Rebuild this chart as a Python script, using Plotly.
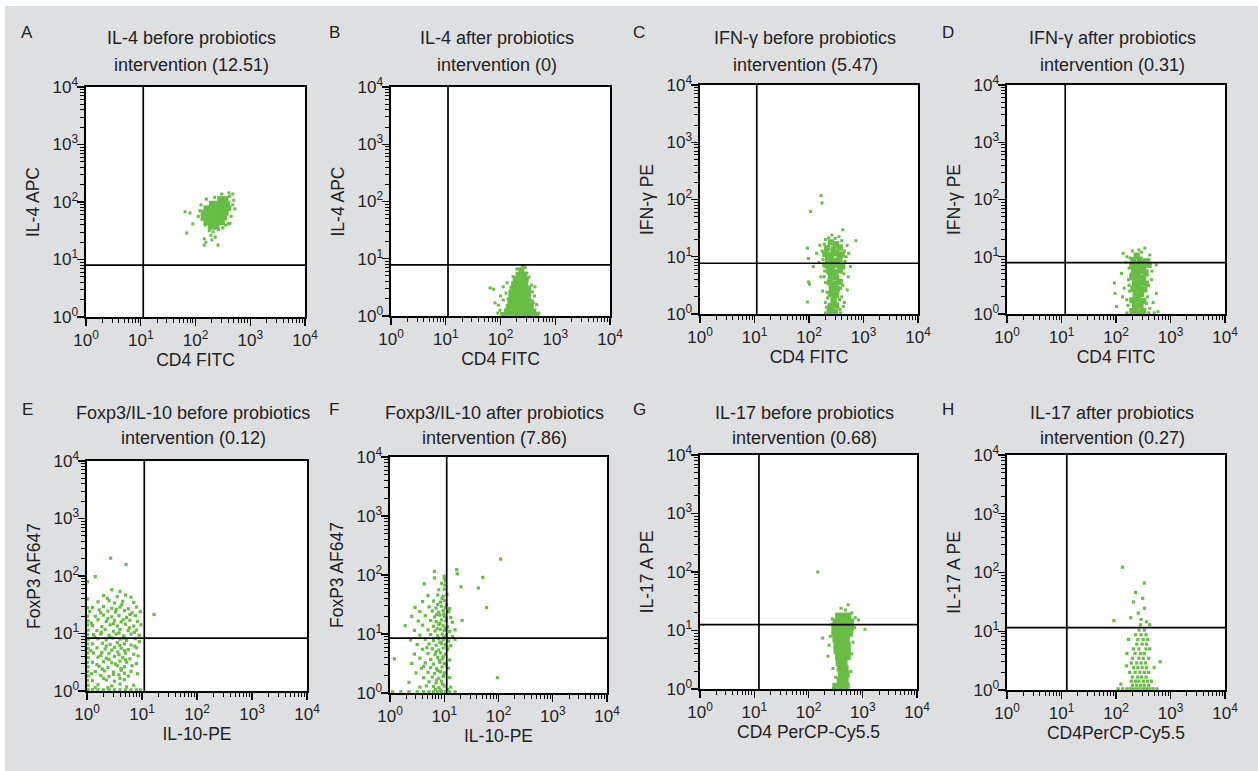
import plotly.graph_objects as go

# ---------------- data ----------------
panel_letters = ["A", "B", "C", "D", "E", "F", "G", "H"]
title_line1 = ["IL-4 before probiotics", "IL-4 after probiotics",
               "IFN-γ before probiotics", "IFN-γ after probiotics",
               "Foxp3/IL-10 before probiotics", "Foxp3/IL-10 after probiotics",
               "IL-17 before probiotics", "IL-17 after probiotics"]
title_line2 = ["intervention (12.51)", "intervention (0)", "intervention (5.47)",
               "intervention (0.31)", "intervention (0.12)", "intervention (7.86)",
               "intervention (0.68)", "intervention (0.27)"]
x_titles = ["CD4 FITC", "CD4 FITC", "CD4 FITC", "CD4 FITC",
            "IL-10-PE", "IL-10-PE", "CD4 PerCP-Cy5.5", "CD4PerCP-Cy5.5"]
y_titles = ["IL-4 APC", "IL-4 APC", "IFN-γ PE", "IFN-γ PE",
            "FoxP3 AF647", "FoxP3 AF647", "IL-17 A PE", "IL-17 A PE"]
gate_x = [11.1, 11.0, 11.0, 11.7, 11.0, 11.1, 12.2, 12.5]
gate_y = [8.0, 7.8, 7.7, 7.9, 8.3, 8.5, 12.6, 11.5]
tick_vals = [1, 10, 100, 1000, 10000]
tick_text = ["10<sup>0</sup>", "10<sup>1</sup>", "10<sup>2</sup>",
             "10<sup>3</sup>", "10<sup>4</sup>"]

# events, as (log10 x, log10 y)
A_core = [(2.45,2.05),(2.55,2.05),
          (2.30,1.97),(2.40,1.97),(2.50,1.97),(2.58,1.97),
          (2.20,1.89),(2.30,1.89),(2.40,1.89),(2.50,1.89),(2.60,1.89),
          (2.15,1.81),(2.25,1.81),(2.35,1.81),(2.45,1.81),(2.55,1.81),
          (2.15,1.73),(2.25,1.73),(2.35,1.73),(2.45,1.73),(2.52,1.73),
          (2.20,1.65),(2.30,1.65),(2.40,1.65),(2.48,1.65),
          (2.28,1.57),(2.38,1.57)]
A_dots = [(2.08,1.85),(2.12,1.70),(2.10,1.95),(2.20,2.05),(2.35,2.08),(2.62,2.10),
          (2.68,1.95),(2.65,1.75),(2.60,1.62),(2.55,1.60),(2.18,1.60),(2.25,1.50),
          (2.32,1.48),(2.42,1.52),(2.50,1.55),(1.81,1.83),(1.90,1.81),(1.84,1.46),
          (1.95,1.62),(2.16,1.36),(2.19,1.30),(2.16,1.25),(2.30,1.34),(2.41,1.25),
          (2.36,1.39),(2.61,2.16),(2.68,2.14),(2.72,1.88),(2.63,1.63),(2.48,2.14),
          (2.05,1.75),(2.28,1.42),(2.70,2.03)]

B_core = [(2.38,0.80),(2.33,0.72),(2.43,0.72),
          (2.28,0.64),(2.38,0.64),(2.46,0.64),
          (2.25,0.56),(2.35,0.56),(2.45,0.56),
          (2.22,0.48),(2.32,0.48),(2.42,0.48),(2.50,0.48),
          (2.20,0.40),(2.30,0.40),(2.40,0.40),(2.50,0.40),
          (2.20,0.32),(2.30,0.32),(2.40,0.32),(2.50,0.32),
          (2.18,0.24),(2.28,0.24),(2.38,0.24),(2.48,0.24),(2.55,0.24),
          (2.15,0.16),(2.25,0.16),(2.35,0.16),(2.45,0.16),(2.55,0.16),
          (2.12,0.08),(2.22,0.08),(2.32,0.08),(2.42,0.08),(2.52,0.08),(2.60,0.08),
          (2.05,0.02),(2.15,0.02),(2.25,0.02),(2.35,0.02),(2.45,0.02),(2.55,0.02),(2.65,0.02)]
B_dots = [(1.81,0.49),(1.87,0.47),(1.90,0.23),(1.96,0.19),(1.99,0.10),(2.05,0.28),
          (2.12,0.58),(2.05,0.51),(2.57,0.54),(2.63,0.51),(2.60,0.23),(2.57,0.05),
          (2.48,0.75),(2.23,0.69),(2.00,0.35),(2.10,0.40),(2.62,0.35),(2.66,0.20),
          (2.70,0.05),(1.95,0.05),(2.52,0.68),(2.30,0.82),(2.45,0.85),(2.40,0.88),
          (2.14,0.30),(2.58,0.42)]

C_core = [(2.40,1.25),(2.50,1.22),
          (2.33,1.15),(2.45,1.13),(2.57,1.16),
          (2.30,1.05),(2.40,1.03),(2.50,1.06),(2.60,1.04),
          (2.35,0.95),(2.46,0.93),(2.56,0.96),
          (2.32,0.85),(2.42,0.84),(2.52,0.86),(2.61,0.83),
          (2.37,0.75),(2.47,0.73),(2.57,0.76),
          (2.40,0.65),(2.50,0.64),
          (2.38,0.55),(2.48,0.53),(2.56,0.56),
          (2.42,0.45),(2.52,0.44),
          (2.40,0.35),(2.50,0.33),
          (2.45,0.24),
          (2.40,0.14),(2.50,0.15),
          (2.38,0.05),(2.48,0.04)]
C_dots = [(2.22,2.07),(2.24,1.94),(2.03,1.79),(2.62,1.47),(2.86,1.28),(1.97,1.15),
          (1.99,0.97),(1.99,0.56),(2.01,0.52),(1.97,0.21),(2.08,0.83),(2.14,1.06),
          (2.73,1.06),(2.76,0.83),(2.70,0.42),(2.63,0.13),(2.20,1.20),(2.18,0.90),
          (2.22,0.65),(2.25,0.40),(2.30,0.20),(2.70,1.20),(2.72,0.65),(2.60,0.30),
          (2.55,1.35),(2.42,1.38),(2.30,1.30),(2.65,0.20),(2.30,0.02),(2.40,0.02),
          (2.50,0.02),(2.58,0.02),(2.28,1.22),(2.65,1.10),(2.66,0.92),(2.26,0.95),
          (2.29,0.75),(2.64,0.70),(2.30,0.55),(2.60,0.58),(2.33,0.38),(2.58,0.45),
          (2.34,0.28),(2.56,0.25),(2.32,0.12),(2.57,0.08),(2.36,1.33),(2.48,1.32),
          (2.60,1.28),(2.68,1.00),(2.24,1.10),(2.27,0.85),(2.62,0.50),(2.28,0.65)]

D_core = [(2.38,1.02),
          (2.32,0.94),(2.44,0.95),(2.54,0.92),
          (2.30,0.84),(2.40,0.85),(2.50,0.83),(2.60,0.86),
          (2.33,0.74),(2.44,0.75),(2.54,0.73),
          (2.30,0.64),(2.40,0.65),(2.50,0.63),
          (2.35,0.54),(2.45,0.55),(2.55,0.53),
          (2.32,0.44),(2.42,0.45),(2.52,0.43),
          (2.36,0.34),(2.46,0.35),
          (2.30,0.24),(2.40,0.25),(2.50,0.23),
          (2.35,0.14),(2.45,0.15),
          (2.30,0.05),(2.40,0.04),(2.50,0.05)]
D_dots = [(1.98,0.36),(1.97,0.54),(2.01,0.13),(2.53,1.15),(2.62,1.03),(2.74,0.86),
          (2.74,0.36),(2.77,0.04),(2.10,0.71),(2.13,1.06),(2.18,0.90),(2.15,0.45),
          (2.20,0.25),(2.65,0.60),(2.68,0.20),(2.60,0.95),(2.30,1.10),(2.42,1.12),
          (2.20,1.00),(2.12,0.30),(2.66,0.75),(2.20,0.02),(2.30,0.02),(2.40,0.02),
          (2.50,0.02),(2.60,0.02),(2.70,0.02),(2.24,0.80),(2.23,0.60),(2.25,0.40),
          (2.22,0.15),(2.60,0.50),(2.58,0.30),(2.62,0.10),(2.47,1.08),(2.26,0.98),
          (2.58,0.68),(2.24,0.50),(2.56,0.18),(2.28,0.70)]

E_core = []
E_dots = [(0.45,1.76),(0.60,1.73),
          (0.30,1.66),(0.55,1.64),(0.70,1.67),(0.80,1.63),
          (0.20,1.55),(0.40,1.57),(0.50,1.53),(0.65,1.56),(0.85,1.54),
          (0.10,1.45),(0.30,1.47),(0.45,1.44),(0.60,1.46),(0.75,1.43),(0.90,1.46),
          (0.05,1.38),(0.25,1.36),(0.38,1.39),(0.52,1.37),(0.68,1.40),(0.82,1.36),(0.97,1.38),
          (0.15,1.30),(0.30,1.32),(0.45,1.29),(0.58,1.31),(0.72,1.28),(0.88,1.31),
          (0.02,1.22),(0.20,1.24),(0.35,1.21),(0.50,1.23),(0.62,1.20),(0.78,1.23),(0.92,1.21),
          (0.10,1.14),(0.27,1.12),(0.42,1.15),(0.55,1.13),(0.70,1.16),(0.85,1.13),(0.98,1.15),
          (0.02,1.06),(0.18,1.05),(0.33,1.07),(0.48,1.04),(0.60,1.07),(0.75,1.05),(0.90,1.06),
          (0.12,0.98),(0.25,0.99),(0.40,0.97),(0.53,0.99),(0.67,0.96),(0.80,0.99),(0.95,0.97),
          (0.02,0.90),(0.20,0.91),(0.35,0.89),(0.47,0.92),(0.60,0.90),(0.72,0.88),(0.88,0.91),
          (0.10,0.82),(0.28,0.83),(0.42,0.81),(0.55,0.84),(0.68,0.82),(0.80,0.80),
          (0.02,0.74),(0.18,0.75),(0.33,0.73),(0.50,0.76),(0.62,0.74),(0.75,0.72),(0.90,0.75),
          (0.12,0.66),(0.27,0.67),(0.40,0.65),(0.56,0.68),(0.70,0.66),(0.85,0.64),
          (0.02,0.58),(0.20,0.59),(0.35,0.57),(0.50,0.60),(0.65,0.58),(0.78,0.56),
          (0.10,0.50),(0.30,0.51),(0.45,0.49),(0.60,0.52),(0.72,0.50),(0.90,0.48),
          (0.02,0.42),(0.22,0.43),(0.38,0.41),(0.55,0.44),(0.68,0.42),
          (0.15,0.34),(0.32,0.35),(0.48,0.33),(0.62,0.36),(0.80,0.34),
          (0.02,0.26),(0.25,0.27),(0.40,0.25),(0.58,0.28),(0.75,0.26),
          (0.10,0.18),(0.35,0.19),(0.50,0.17),(0.68,0.20),
          (0.02,0.10),(0.20,0.11),(0.45,0.09),(0.60,0.12),(0.85,0.10),
          (0.02,0.02),(0.10,0.02),(0.20,0.02),(0.30,0.02),(0.40,0.02),(0.50,0.02),
          (0.60,0.02),(0.70,0.02),(0.80,0.02),(0.90,0.02),(0.97,0.02),
          (0.43,2.31),(0.71,2.20),(0.15,1.99),(1.22,1.33),(0.01,1.90),(0.01,1.60),
          (0.01,1.45),(0.01,1.30),(0.01,1.15),(0.01,0.98),(0.01,0.82),(0.01,0.66),
          (0.01,0.50),(0.01,0.34),(0.01,0.18),
          (0.37,1.61),(0.63,1.50),(0.22,1.41),(0.53,1.42),(0.78,1.33),(0.38,1.26),
          (0.66,1.24),(0.08,1.18),(0.48,1.17),(0.77,1.10),(0.26,1.02),(0.58,1.01),
          (0.86,1.02),(0.14,0.94),(0.42,0.93),(0.67,0.92),(0.95,0.86),(0.35,0.78),
          (0.60,0.79),(0.87,0.78),(0.07,0.70),(0.45,0.71),(0.68,0.70),(0.25,0.62),
          (0.58,0.63),(0.93,0.61),(0.40,0.55),(0.70,0.54),(0.18,0.46),(0.52,0.47),
          (0.82,0.44),(0.28,0.38),(0.62,0.39),(0.08,0.30),(0.48,0.29),(0.68,0.31),
          (0.30,0.22),(0.60,0.22),(0.15,0.06),(0.38,0.06),(0.72,0.07),(0.92,0.30)]

F_core = []
F_dots = [(0.82,1.95),(1.00,1.94),(1.02,1.90),
          (0.63,1.85),(0.95,1.86),(1.01,1.83),
          (0.90,1.75),(1.00,1.76),
          (0.70,1.65),(0.88,1.66),(0.98,1.64),(1.05,1.67),
          (0.60,1.55),(0.80,1.56),(0.93,1.54),(1.00,1.57),
          (0.46,1.45),(0.72,1.46),(0.85,1.44),(0.95,1.47),(1.02,1.45),(1.10,1.43),
          (0.55,1.38),(0.78,1.39),(0.90,1.37),(0.98,1.40),(1.08,1.38),
          (0.40,1.30),(0.65,1.31),(0.82,1.29),(0.92,1.32),(1.00,1.30),(1.12,1.28),
          (0.52,1.22),(0.75,1.23),(0.85,1.21),(0.95,1.24),(1.03,1.22),(1.15,1.20),(1.33,1.23),
          (0.28,1.14),(0.60,1.15),(0.80,1.13),(0.90,1.16),(0.98,1.14),(1.06,1.12),
          (0.45,1.06),(0.70,1.07),(0.83,1.05),(0.93,1.08),(1.00,1.06),(1.10,1.04),(1.20,1.07),
          (0.55,0.98),(0.75,0.99),(0.88,0.97),(0.96,1.00),(1.04,0.98),(1.15,0.96),
          (0.38,0.90),(0.65,0.91),(0.80,0.89),(0.90,0.92),(0.98,0.90),(1.08,0.88),(1.20,0.91),
          (0.50,0.82),(0.72,0.83),(0.85,0.81),(0.95,0.84),(1.02,0.82),(1.12,0.80),
          (0.60,0.74),(0.78,0.75),(0.90,0.73),(0.98,0.76),(1.06,0.74),
          (0.45,0.66),(0.70,0.67),(0.83,0.65),(0.93,0.68),(1.02,0.66),
          (0.08,0.58),(0.55,0.59),(0.75,0.57),(0.88,0.60),(0.97,0.58),(1.10,0.56),
          (0.40,0.50),(0.65,0.51),(0.80,0.49),(0.92,0.52),(1.00,0.50),
          (0.58,0.42),(0.75,0.43),(0.86,0.41),(0.96,0.44),(1.08,0.42),
          (0.48,0.34),(0.70,0.35),(0.82,0.33),(0.93,0.36),(1.00,0.34),
          (0.62,0.26),(0.78,0.27),(0.90,0.25),(0.98,0.28),(1.10,0.26),
          (0.35,0.18),(0.72,0.19),(0.85,0.17),(0.95,0.20),
          (0.55,0.10),(0.80,0.11),(0.90,0.09),(1.00,0.12),(1.12,0.10),
          (0.05,0.02),(0.20,0.02),(0.35,0.02),(0.50,0.02),(0.62,0.02),(0.72,0.02),
          (0.80,0.02),(0.88,0.02),(0.95,0.02),(1.02,0.02),(1.10,0.02),(1.20,0.02),
          (1.23,2.09),(1.24,2.02),(1.31,1.80),(1.71,1.96),(1.63,1.78),(2.04,2.27),
          (1.78,1.45),(1.98,0.26),(0.82,2.06),(1.00,1.98),
          (0.96,1.60),(1.04,1.50),(0.88,1.50),(0.99,1.34),(0.86,1.33),(1.04,1.27),
          (0.92,1.18),(1.02,1.10),(0.87,1.09),(0.99,0.95),(0.92,0.86),(1.05,0.78),
          (0.85,0.70),(0.98,0.62),(0.91,0.55),(1.04,0.47),(0.88,0.38),(0.99,0.30),
          (0.86,0.22),(0.97,0.15),(0.84,0.06),(0.93,0.05),(1.06,0.06),(0.68,0.77),
          (0.62,0.45),(0.67,0.12)]

G_core = [(2.55,1.25),(2.65,1.25),(2.73,1.25),
          (2.50,1.15),(2.60,1.15),(2.70,1.15),(2.78,1.15),
          (2.48,1.05),(2.58,1.05),(2.68,1.05),(2.78,1.05),
          (2.48,0.95),(2.58,0.95),(2.68,0.95),(2.76,0.95),
          (2.50,0.85),(2.60,0.85),(2.70,0.85),
          (2.52,0.75),(2.62,0.75),(2.72,0.75),
          (2.52,0.65),(2.62,0.65),(2.72,0.65),
          (2.55,0.55),(2.65,0.55),(2.72,0.55),
          (2.56,0.45),(2.66,0.45),
          (2.58,0.35),(2.68,0.35),
          (2.60,0.25),(2.70,0.25),
          (2.58,0.15),(2.68,0.15),
          (2.50,0.05),(2.60,0.05),(2.70,0.05)]
G_dots = [(2.17,2.00),(2.73,1.44),(2.26,0.87),(2.36,0.56),(2.92,1.18),(3.04,1.02),
          (2.46,0.02),(2.52,0.02),(2.58,0.02),(2.64,0.02),(2.70,0.02),(2.40,0.90),
          (2.42,1.10),(2.38,0.75),(2.85,1.05),(2.82,0.80),(2.80,1.30),(2.68,1.35),
          (2.60,1.38),(2.45,0.35),(2.80,0.60),(2.50,0.20),(2.78,0.30),(2.44,1.20),
          (2.86,1.22)]

H_core = []
H_dots = [(2.04,0.02),(2.12,0.02),(2.20,0.02),(2.26,0.02),(2.32,0.02),(2.38,0.02),
          (2.44,0.02),(2.50,0.02),(2.56,0.02),(2.62,0.02),(2.68,0.02),(2.75,0.02),
          (2.30,0.08),(2.38,0.08),(2.45,0.08),(2.52,0.08),(2.60,0.08),
          (2.28,0.15),(2.36,0.15),(2.42,0.15),(2.50,0.15),(2.58,0.15),(2.65,0.15),
          (2.30,0.22),(2.40,0.22),(2.47,0.22),(2.55,0.22),
          (2.25,0.30),(2.35,0.30),(2.44,0.30),(2.52,0.30),(2.60,0.30),
          (2.32,0.38),(2.40,0.38),(2.48,0.38),(2.56,0.38),(2.70,0.38),
          (2.28,0.46),(2.38,0.46),(2.46,0.46),(2.54,0.46),(2.81,0.48),
          (2.30,0.54),(2.42,0.54),(2.50,0.54),(2.60,0.54),
          (2.35,0.62),(2.45,0.62),(2.52,0.62),(2.20,0.62),
          (2.32,0.70),(2.42,0.70),(2.55,0.70),(2.62,0.70),
          (2.38,0.78),(2.48,0.78),(2.56,0.78),
          (2.23,0.86),(2.40,0.86),(2.50,0.86),(2.58,0.86),
          (2.36,0.94),(2.46,0.94),(2.55,0.94),
          (2.42,1.02),(2.52,1.02),(2.62,1.11),(2.45,1.11),(2.56,1.16),
          (2.46,1.20),(2.27,1.23),(2.41,1.31),(2.52,1.39),(2.32,1.50),(2.49,1.56),
          (2.36,1.66),(2.52,1.82),(2.12,2.09),(1.96,1.18),(2.19,0.41),(2.09,0.10)]

events_core = [A_core, B_core, C_core, D_core, E_core, F_core, G_core, H_core]
events_dots = [A_dots, B_dots, C_dots, D_dots, E_dots, F_dots, G_dots, H_dots]

# ---------------- layout (pixels) ----------------
W, H = 1258, 771
boxes = [(86, 305, 87, 317), (391, 610, 87, 316), (700, 918, 85, 314), (1007, 1225, 85, 314),
         (87, 307, 461, 691), (390, 607, 457, 693), (700, 917, 455, 689), (1007, 1225, 455, 690)]
letter_pos = [(27, 33), (334, 33), (639, 33), (948, 33),
              (27, 409), (334, 409), (639, 409), (948, 409)]
title_y = [(38, 65)] * 4 + [(413, 438)] * 4
core_size = [6, 6, 6.2, 6.2, 3, 3, 6.5, 3]
dot_size = [3, 3, 3, 3, 3.2, 3.2, 3, 3.2]

GREEN = "rgb(104,189,69)"
GRAY = "rgb(222,223,225)"
FONT = "Liberation Sans, Arial, sans-serif"
TXT = "#222222"

minor_vals = [m * 10 ** d for d in range(4) for m in range(2, 10)]

fig = go.Figure()
layout = dict(width=W, height=H, margin=dict(l=0, r=0, t=0, b=0), autosize=False,
              paper_bgcolor=GRAY, plot_bgcolor="white", showlegend=False,
              font=dict(family=FONT, color=TXT))
annotations = []
shapes = [
    dict(type="rect", xref="paper", yref="paper", x0=0, x1=1, y0=1 - 6 / H, y1=1,
         fillcolor="white", line=dict(width=0), layer="above"),
    dict(type="rect", xref="paper", yref="paper", x0=0, x1=5 / W, y0=0, y1=1,
         fillcolor="white", line=dict(width=0), layer="above"),
]

for i in range(8):
    n = i + 1
    xa = "x" if n == 1 else f"x{n}"
    ya = "y" if n == 1 else f"y{n}"
    l, r, t, b = boxes[i]
    core = events_core[i]
    dots = events_dots[i]
    if core:
        fig.add_trace(go.Scatter(
            x=[10 ** p[0] for p in core], y=[10 ** p[1] for p in core],
            mode="markers", xaxis=xa, yaxis=ya, hoverinfo="skip",
            marker=dict(symbol="square", size=core_size[i], color=GREEN, line=dict(width=0))))
    fig.add_trace(go.Scatter(
        x=[10 ** p[0] for p in dots], y=[10 ** p[1] for p in dots],
        mode="markers", xaxis=xa, yaxis=ya, hoverinfo="skip",
        marker=dict(symbol="square", size=dot_size[i], color=GREEN, line=dict(width=0))))
    # quadrant gates
    fig.add_trace(go.Scatter(x=[gate_x[i], gate_x[i]], y=[1, 10000], mode="lines",
                             xaxis=xa, yaxis=ya, hoverinfo="skip",
                             line=dict(color="black", width=1.7)))
    fig.add_trace(go.Scatter(x=[1, 10000], y=[gate_y[i], gate_y[i]], mode="lines",
                             xaxis=xa, yaxis=ya, hoverinfo="skip",
                             line=dict(color="black", width=1.7)))

    common = dict(type="log", range=[0, 4], tickmode="array", tickvals=tick_vals,
                  ticktext=tick_text, ticks="outside", ticklen=7, tickwidth=1.3,
                  tickcolor="black", showline=True, linecolor="black", linewidth=1.6,
                  mirror=True, showgrid=False, zeroline=False, fixedrange=True,
                  automargin=False,
                  tickfont=dict(family=FONT, size=17, color=TXT),
                  minor=dict(tickmode="array", tickvals=minor_vals, ticks="outside",
                             ticklen=4, tickwidth=1, tickcolor="black", showgrid=False))
    layout["xaxis" if n == 1 else f"xaxis{n}"] = dict(
        common, domain=[l / W, r / W], anchor=ya,
        title=dict(text=x_titles[i], font=dict(family=FONT, size=17.5, color=TXT), standoff=3))
    layout["yaxis" if n == 1 else f"yaxis{n}"] = dict(
        common, domain=[1 - b / H, 1 - t / H], anchor=xa, ticklabelstandoff=-4,
        title=dict(text=y_titles[i], font=dict(family=FONT, size=17.5, color=TXT), standoff=8))

    cx = (l + r) / 2 - 4
    annotations.append(dict(text=title_line1[i], x=cx / W, y=1 - title_y[i][0] / H,
                            xref="paper", yref="paper", showarrow=False,
                            xanchor="center", yanchor="middle",
                            font=dict(family=FONT, size=18, color=TXT)))
    annotations.append(dict(text=title_line2[i], x=cx / W, y=1 - title_y[i][1] / H,
                            xref="paper", yref="paper", showarrow=False,
                            xanchor="center", yanchor="middle",
                            font=dict(family=FONT, size=18, color=TXT)))
    lx, ly = letter_pos[i]
    annotations.append(dict(text=panel_letters[i], x=lx / W, y=1 - ly / H,
                            xref="paper", yref="paper", showarrow=False,
                            xanchor="center", yanchor="middle",
                            font=dict(family=FONT, size=17, color=TXT)))

layout["annotations"] = annotations
layout["shapes"] = shapes
fig.update_layout(**layout)
fig.write_html("out.html", config={"displayModeBar": False, "staticPlot": True},
               post_script="document.body.style.margin='0';"
                           "document.documentElement.style.overflow='hidden';")
